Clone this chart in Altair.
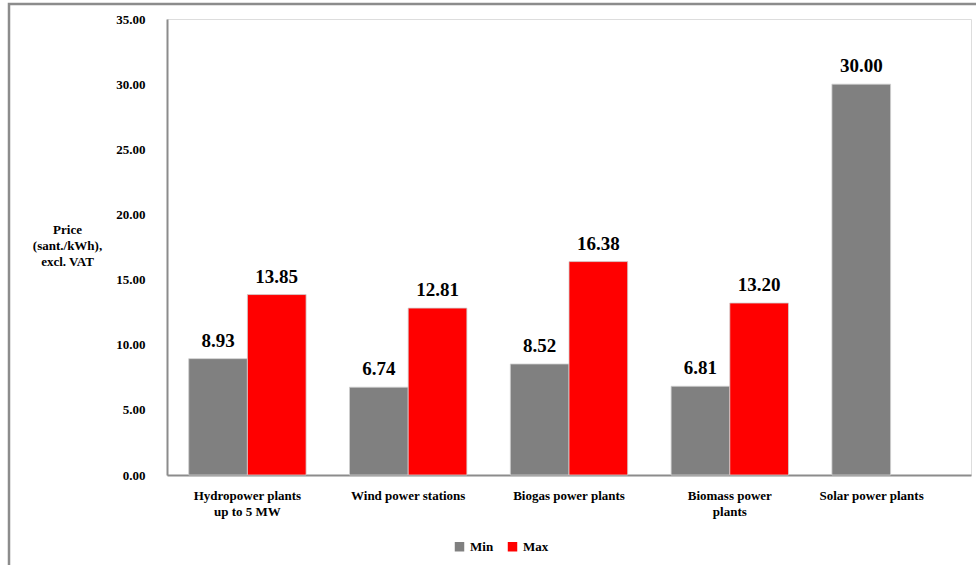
import altair as alt
import pandas as pd

categories = ["Hydropower plants|up to 5 MW", "Wind power stations", "Biogas power plants",
              "Biomass power|plants", "Solar power plants"]
min_vals = [8.93, 6.74, 8.52, 6.81, 30.00]
max_vals = [13.85, 12.81, 16.38, 13.20, None]
series = ["Min", "Max"]
colors = ["#808080", "#ff0000"]
y_ticks = [0, 5, 10, 15, 20, 25, 30, 35]

rows = []
for c, mn, mx in zip(categories, min_vals, max_vals):
    rows.append({"cat": c, "series": "Min", "value": mn})
    if mx is not None:
        rows.append({"cat": c, "series": "Max", "value": mx})
df = pd.DataFrame(rows)

FONT = "Liberation Serif"
W, H = 804, 456

x_enc = alt.X("cat:N", sort=categories, scale=alt.Scale(paddingInner=0, paddingOuter=0),
              axis=alt.Axis(title=None, labelExpr="split(datum.label, '|')", labelAngle=0,
                            labelFont=FONT, labelFontSize=13, labelFontWeight="bold",
                            labelColor="#000", labelPadding=14, labelLineHeight=16,
                            labelOffset={"condition": {"test": "datum.value == 'Solar power plants'",
                                                       "value": -19}, "value": 0},
                            ticks=False, domainColor="#8c8c8c", domainWidth=2,
                            labelBaseline="top"))
xo = alt.XOffset("series:N", sort=series,
                 scale=alt.Scale(domain=series, paddingInner=0, paddingOuter=0.37))

bars = alt.Chart(df).mark_bar(stroke="#d0d0d0", strokeWidth=0.8).encode(
    x=x_enc,
    xOffset=xo,
    y=alt.Y("value:Q", scale=alt.Scale(domain=[0, 35], nice=False),
            axis=alt.Axis(values=y_ticks, format=".2f", grid=False, ticks=False,
                          labelFont=FONT, labelFontSize=13, labelFontWeight="bold",
                          labelColor="#000", labelPadding=22,
                          domainColor="#8c8c8c", domainWidth=2,
                          title=["Price", "(sant./kWh),", "excl. VAT"],
                          titleAngle=0, titleX=-100, titleY=204, titleAlign="center",
                          titleBaseline="top", titleFont=FONT, titleFontSize=13,
                          titleFontWeight="bold", titleColor="#000", titleLineHeight=16)),
    color=alt.Color("series:N", sort=series,
                    scale=alt.Scale(domain=series, range=colors),
                    legend=alt.Legend(title=None, orient="none", direction="horizontal",
                                      legendX=286, legendY=521, symbolType="square",
                                      symbolSize=90, symbolStrokeWidth=0,
                                      labelFont=FONT, labelFontSize=13,
                                      labelFontWeight="bold", labelColor="#000",
                                      labelOffset=4, columnPadding=12)),
)

labels = alt.Chart(df).mark_text(font=FONT, fontSize=19, fontWeight="bold",
                                 baseline="bottom", dy=-8, color="#000").encode(
    x=alt.X("cat:N", sort=categories),
    xOffset=xo,
    y=alt.Y("value:Q"),
    text=alt.Text("value:Q", format=".2f"),
)

frame = alt.Chart(pd.DataFrame({"a": [0]})).mark_rect(
    fill=None, stroke="#8c8c8c", strokeWidth=2.5).encode(
    x=alt.value(-158), y=alt.value(-15), x2=alt.value(W + 60), y2=alt.value(H + 200))

chart = alt.layer(frame, bars, labels).properties(
    width=W, height=H,
    padding={"left": 167, "top": 19, "right": 5, "bottom": 90},
    autosize=alt.AutoSizeParams(type="none"),
).configure_view(stroke=None).configure(background="white")

chart.save("out.html", embed_options={"renderer": "svg", "actions": False})
